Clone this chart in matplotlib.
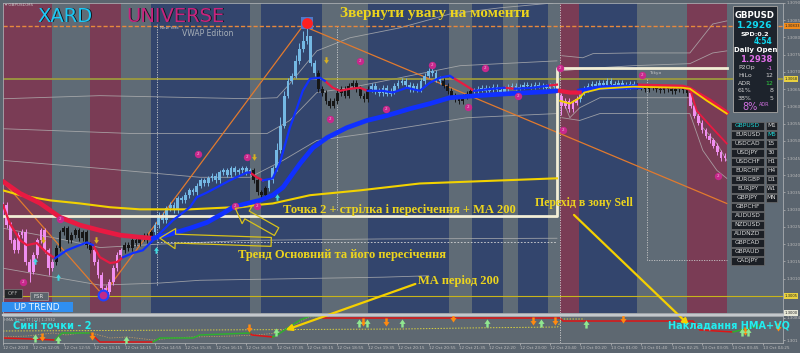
import numpy as np
import matplotlib
matplotlib.use('Agg')
import matplotlib.pyplot as plt
from matplotlib.patches import Rectangle, FancyArrowPatch
from matplotlib.path import Path

# prices are kept in pips above 1.3000, x is the bar number (5 min bars)
closes = [
    31.3, 25.5, 21.1, 18.2, 22.6, 23.5, 14.8, 12.0, 16.8, 21.1, 24.0, 18.2, 13.0, 14.8,
    18.8, 23.4, 24.6, 21.1, 22.6, 24.0, 21.7, 23.4, 19.7, 18.2,
    14.8, 11.0, 7.2, 6.0, 9.0, 13.0, 16.8, 18.2,
    19.7, 18.8, 21.1, 20.3, 21.7, 22.3, 21.1, 23.4,
    25.5, 28.4, 26.9, 30.4, 31.3, 29.8, 33.3, 32.7, 34.2, 35.6, 35.0, 37.0, 38.5,
    37.6, 39.1, 39.9, 38.5, 40.8, 41.4, 40.2, 42.0, 40.8, 41.4, 42.0, 40.8, 41.4,
    38.5, 35.0, 34.2, 36.2,
    38.5, 42.0, 47.2, 54.4, 63.1, 67.4, 68.9, 73.2, 76.7, 79.0, 80.5,
    72.6, 69.7, 65.1, 63.9, 61.6, 60.2,
    61.6, 63.9, 65.1, 63.1, 66.0, 66.9, 65.1, 63.1, 62.2,
    65.1, 66.0, 64.5, 63.9, 65.4, 63.7, 64.5, 66.0, 66.9, 67.4, 66.3, 65.1, 66.0,
    65.1, 67.4, 68.9, 70.3, 69.7,
    68.0, 67.4, 66.0, 64.5, 63.1,
    62.2, 61.6, 62.8, 63.7, 64.5,
    64.5, 65.1, 65.4, 64.5, 65.1, 65.7, 64.8, 64.2, 65.1, 65.7, 66.0, 65.4, 65.7,
    66.3, 66.0, 65.7, 66.3, 66.0, 65.7, 65.4, 66.0, 65.7,
    63.1, 60.2, 61.6, 59.3, 61.1, 62.2,
    64.0, 65.1, 66.0, 66.6, 66.0, 66.9, 66.3, 67.4, 66.6, 66.0, 66.9, 66.3, 65.7, 66.6, 66.0,
    65.7, 65.4, 65.1, 65.4, 65.7, 65.1, 64.8, 65.4, 65.1, 64.5, 65.1, 65.4, 64.8, 63.9,
    60.2, 57.3, 55.3, 53.0, 51.5, 50.1, 48.6, 46.6, 44.9, 45.7,
]
first_open = 29.0
high_marks = {72: 49.5, 73: 57.0, 74: 64.5, 77: 75.0, 78: 78.5, 79: 82.0, 80: 84.2, 81: 76.0}
low_marks = {26: 5.2, 27: 5.0, 7: 9.0, 12: 11.0, 147: 57.5}

candle_zones = [(0, 13, 'pink'), (14, 23, 'black'), (24, 31, 'pink'), (32, 39, 'black'),
                (40, 65, 'blue'), (66, 69, 'black'), (70, 82, 'blue'), (83, 96, 'black'),
                (97, 115, 'blue'), (116, 123, 'black'), (124, 145, 'blue'), (146, 151, 'pink'),
                (152, 166, 'blue'), (167, 180, 'black'), (181, 190, 'pink')]

# session bands (bar edges)
band_edges = [0, 13, 23, 31, 39, 65, 68, 84, 96, 117.5, 123.5, 131.5, 135.5, 143.5, 146.5,
              151.5, 167, 180, 190.5, 205.3]
band_kind = ['m', 'g', 'm', 'g', 'b', 'g', 'b', 'g', 'b', 'g', 'b', 'g', 'b', 'g', 'm',
             'b', 'g', 'm', 'g']

fast_red = [
    [(0, 31.3), (1.8, 26.0), (4.5, 21.1), (6.3, 19.7), (8.9, 20.3), (11.6, 17.4), (13.7, 15.9)],
    [(23.7, 19.7), (25.5, 16.2), (28.2, 14.5), (30, 14.8), (31.6, 16.2)],
    [(65, 40.8), (66.8, 39.4), (68.4, 38.5)],
    [(84.7, 67.4), (86.8, 65.4), (88.7, 64.5), (91.3, 65.1), (93.9, 65.4), (96, 64.5)],
    [(118.4, 68.3), (121, 66.6), (124, 64.5)],
    [(132, 65.4), (134.7, 65.1)],
    [(143.4, 66.0), (145.8, 66.3)],
]
fast_blue = [
    [(13.7, 15.9), (16.8, 18.2), (19.5, 19.4), (22.1, 20.5), (23.7, 19.7)],
    [(31.6, 16.2), (34.2, 17.4), (36.8, 18.2), (39.5, 21.1), (44.7, 26.9), (49.2, 30.7), (51, 33.6),
     (53.7, 35.0), (56.3, 36.5), (59.7, 38.5), (64.2, 40.8), (65, 40.8)],
    [(68.4, 38.5), (71, 39.1), (72.9, 43.7), (75.5, 53.8), (77.4, 59.6), (78.9, 64.5), (80.8, 68.0),
     (83.4, 68.3), (84.7, 67.4)],
    [(96, 64.5), (100, 64.5), (102.6, 64.0), (106.3, 65.4), (109.7, 64.5), (112.4, 66.9), (115, 68.3),
     (117.6, 68.9), (118.4, 68.3)],
    [(124, 64.5), (128.9, 65.1), (132, 65.4)],
    [(134.7, 65.1), (139.5, 65.4), (143.4, 66.0)],
]
slow_red = [(0, 38.2), (4.5, 34.7), (9.7, 31.9), (15, 27.8), (20.3, 25.5), (25.5, 24.0), (30.8, 22.6),
            (36, 22.0), (39.5, 21.7)]
slow_blue = [(39.5, 21.7), (44.7, 23.1), (49.2, 24.6), (53.7, 26.3), (57.9, 28.9), (60.5, 30.7),
             (64.2, 31.8), (67.6, 32.7), (71, 34.2), (73.7, 36.5), (76.3, 40.5), (78.2, 43.4),
             (81.6, 48.0), (85.3, 50.9), (90.5, 53.8), (95.8, 55.9), (101, 57.3), (107.1, 59.3),
             (112.4, 60.8), (117.6, 62.5), (124.7, 63.1), (133.4, 63.7), (142.1, 64.2), (145.8, 64.5)]
ma200 = [(0, 35.6), (4.5, 34.2), (12.4, 32.7), (20.3, 31.8), (28.2, 30.7), (36, 30.1), (49.2, 30.1),
         (60.5, 30.7), (71, 31.8), (80.8, 34.2), (93.9, 35.6), (109.7, 37.6), (145.8, 39.1)]

right_red_thick = [[(146.6, 64.5), (149.2, 64.0), (151.8, 64.0)],
                   [(167.6, 66.0), (178.9, 65.7), (180.8, 65.1), (186.1, 61.6), (190.5, 58.2)]]
right_blue_thick = [(151.8, 64.5), (157.1, 65.4), (167.6, 65.7)]
right_red_thin = [(180.8, 65.1), (182.6, 58.7), (186.1, 54.4), (190.5, 49.2)]
right_yellow = [(146.6, 61.6), (149.2, 60.8), (151.8, 62.5), (153, 64.0), (157.1, 65.1),
                (165.8, 65.7), (178.9, 65.4), (180.8, 65.1), (185.3, 61.6), (190.5, 57.9)]

envelopes = [
    [(0, 62.2), (25.5, 63.1), (65, 62.2), (72.1, 62.5), (75.5, 66.6), (82.6, 76.1), (91.3, 79.9),
     (104.5, 82.8), (117.6, 86.8), (130.8, 88.6), (144.7, 90)],
    [(0, 53.5), (34.2, 52.1), (69.5, 52.1), (75.5, 55.9), (82.6, 64.0), (91.3, 65.4), (104.5, 68.3),
     (120.3, 71.8), (145.8, 73.2)],
    [(0, 44.3), (25.5, 42.0), (51.8, 39.4), (65, 39.4), (73.7, 44.3), (82.6, 50.1), (95.8, 52.1),
     (108.9, 54.4), (122.1, 56.7), (145.8, 57.9)],
    [(0, 24.6), (15, 21.5), (25.5, 19.0), (41.3, 20.0), (65, 21.1), (100, 21.5), (145.8, 21.7)],
    [(0, 13.0), (25.5, 8.1), (41.3, 8.7), (51.8, 9.5), (100, 10.4), (112, 10.8)],
    [(147.1, 74.7), (152.6, 74.1), (155.3, 75.3), (165.8, 75.5), (180.8, 75.5), (186.8, 83.9), (190.5, 84.8)],
    [(147.1, 70.3), (152.6, 70.9), (165.8, 71.8), (180.8, 72.4), (186.8, 75.5), (190.5, 76.1)],
    [(147.1, 62.5), (149.2, 56.7), (151.8, 59.6), (157.1, 62.5), (180.8, 62.5), (184.2, 53.8),
     (187.9, 49.2), (190.5, 44.3)],
    [(147.1, 56.7), (151.8, 55.9), (157.1, 57.9), (180.8, 57.9), (184.2, 47.2), (187.9, 41.4), (190.5, 39.1)],
]
zone_line = [(0, 28.1), (145.8, 28.1), (145.8, 71.2), (190.5, 71.2)]
zigzag = [[(0.5, 37.6), (26.3, 5.2), (79.5, 84.2)], [(80.8, 82.5), (190.5, 31.8)]]
level_orange, level_olive, level_yellow = 83.3, 68.0, 5.0

dots_2 = [(51.3, 46.3), (64.2, 45.2), (93.9, 73.2), (86, 56.4), (100.8, 59.3), (112.9, 72.1),
          (126.8, 71.2), (122.4, 59.9), (135.5, 63.1), (146.6, 71.2), (147.4, 53.2), (168.2, 69.2),
          (188.2, 39.9), (15, 27.2), (5.3, 9.0), (61.1, 31.0), (66.8, 31.0)]
arrows_down_main = [(85, 73.5), (66, 45.4), (10.5, 21.1), (24.5, 21.1)]
arrows_up_main = [(8.4, 15.1), (14.5, 10.4), (40.3, 18.2), (72.1, 33.6)]

# HMA trend panel
hma_red = [
    [(0, 16.7), (7.9, 13.3), (13.7, 10)],
    [(22.9, 33.3), (25.5, 3.3), (39.5, 3.3)],
    [(65, 33.3), (65.5, 26.7), (71, 20)],
    [(83.4, 90), (84.2, 83.3), (146.6, 83.3), (147.4, 73.3), (181.6, 73.3), (183.4, 43.3), (192.1, 36.7)],
]
hma_green = [
    [(13.7, 10), (15.5, 33.3), (22.9, 33.3)],
    [(39.5, 3.3), (41.3, 16.7), (50, 16.7), (51.8, 26.7), (65, 33.3)],
    [(71, 20), (72.1, 26.7), (78.2, 76.7), (80.8, 90), (83.4, 90)],
    [(192.1, 36.7), (196.6, 50), (199.2, 60)],
]
hma_signal = [(0, 40), (52, 43.3), (105, 46.7), (122, 50), (146, 53.3), (147, 80), (153, 80)]
vq_line = [(0, 20), (6.3, 23.3), (13.2, 33.3), (16.8, 26.7), (22.1, 36.7), (28.2, 16.7), (32.6, 20),
           (39.5, 10), (44.7, 16.7), (50, 20), (60.5, 23.3), (66.8, 26.7), (72.1, 33.3), (76.3, 60),
           (80.8, 86.7), (86.8, 90)]
hma_down = [(10.3, 20), (23.4, 23.3), (64.7, 50), (94.7, 70), (100.8, 70), (118.4, 83.3), (139.5, 73.3),
            (145.3, 73.3), (163.2, 80), (195.3, 40), (204, 53.3)]
hma_up = [(8.4, 16.7), (14.5, 10), (32.4, 10), (71.8, 36.7), (93.7, 66.7), (95.8, 66.7), (105, 66.7),
          (127.4, 66.7), (141.6, 66.7), (153.4, 63.3), (194.5, 36.7), (196, 36.7)]

time_labels = ['12 Oct 2020', '12 Oct 12:05', '12 Oct 12:55', '12 Oct 13:15', '12 Oct 14:15',
               '12 Oct 14:55', '12 Oct 15:35', '12 Oct 16:15', '12 Oct 16:55', '12 Oct 17:35',
               '12 Oct 18:15', '12 Oct 18:55', '12 Oct 19:35', '12 Oct 20:15', '12 Oct 20:55',
               '12 Oct 21:35', '12 Oct 22:20', '12 Oct 23:00', '12 Oct 23:40', '13 Oct 00:20',
               '13 Oct 01:00', '13 Oct 01:40', '13 Oct 02:25', '13 Oct 03:05', '13 Oct 03:45',
               '13 Oct 04:25']
symbols = ['GBPUSD', 'EURUSD', 'USDCAD', 'USDJPY', 'USDCHF', 'EURCHF', 'EURGBP', 'EURJPY', 'GBPJPY',
           'GBPCHF', 'AUDUSD', 'NZDUSD', 'AUDNZD', 'GBPCAD', 'GBPAUD', 'CADJPY']
timeframes = ['M1', 'M5', '15', '30', 'H1', 'H4', 'D1', 'W1', 'MN']
info_rows = [('P2Op', '-1', '#e070e8'), ('HiLo', '12', '#d0d0d0'), ('ADR', '12', '#30d040'),
             ('61%', '8', '#d0d0d0'), ('38%', '5', '#d0d0d0')]
price_tags = [(83.3, '1.30833', '#f08a1a'), (68.0, '1.3068', '#e8d040'), (5.0, '1.3005', '#e8d040'),
              (0.0, '1.3000', '#e8e8d8')]


def pr(v):
    return 1.3 + np.asarray(v, dtype=float) / 10000


def line(ax, pts, **kw):
    a = np.array(pts)
    ax.plot(a[:, 0], pr(a[:, 1]), **kw)


BG = '#5b656f'
COL = {'m': '#7a3c55', 'g': '#5f6b76', 'b': '#33456d',
       'pink': '#f08ef0', 'blue': '#74b8e4', 'black': '#161616'}
YEL = '#ecd41e'
fig = plt.figure(figsize=(8, 3.53), dpi=100, facecolor=BG)

ax = fig.add_axes([3 / 800, 1 - 313 / 353, 780 / 800, 310 / 353])
ax.set_facecolor(COL['g'])
ax.set_xlim(0, 205.3)
ax.set_ylim(1.3000, 1.30897)
for k in range(len(band_kind)):
    ax.axvspan(band_edges[k], band_edges[k + 1], color=COL[band_kind[k]], lw=0, zorder=0)

for pts in envelopes:
    line(ax, pts, color='#b4b4b4', lw=0.6, alpha=0.8, zorder=1)
ax.axhline(pr(level_orange), color='#e8893c', lw=1, ls=(0, (3, 1.5)), zorder=2)
ax.axhline(pr(level_olive), color='#9c9a3e', lw=1.3, zorder=2)
ax.axhline(pr(level_yellow), color='#c8b41a', lw=0.8, zorder=2)
ax.plot([40.5, 145.8], pr([20.5, 20.5]), color='#d8d8d8', lw=0.6, ls=(0, (2, 2)), zorder=2)
ax.plot([169.5, 169.5, 190.5], pr([68, 15.3, 15.3]), color='#c8c8c8', lw=0.6, ls=(0, (1.5, 1.5)), zorder=2)
for xb, y0, y1 in [(40.5, 8, 84), (87.9, 30, 83), (146.6, 0, 90)]:
    ax.plot([xb, xb], pr([y0, y1]), color='#d0d0d0', lw=0.6, ls=(0, (1.5, 1.5)), zorder=2)
for pts in zigzag:
    line(ax, pts, color='#e27a2e', lw=0.9, zorder=2)

# candles
c = np.array(closes)
o = np.r_[first_open, c[:-1]]
hi = np.maximum(o, c) + 0.8
lo = np.minimum(o, c) - 0.8
for i, v in high_marks.items():
    hi[i] = v
for i, v in low_marks.items():
    lo[i] = v
ccol = [''] * len(c)
for a, b, k in candle_zones:
    for i in range(a, b + 1):
        ccol[i] = COL[k]
x = np.arange(len(c))
ax.vlines(x, pr(lo), pr(hi), colors=ccol, lw=0.7, zorder=3)
body = np.maximum(np.abs(c - o), 0.3) / 10000
ax.bar(x, body, bottom=pr(np.minimum(o, c)), width=0.72, color=ccol, lw=0, zorder=3)

line(ax, zone_line, color='#f2eed6', lw=2, zorder=4)
line(ax, ma200, color='#f2d200', lw=1.5, zorder=4)
line(ax, slow_red, color='#e81a42', lw=3.4, zorder=4, solid_capstyle='round')
line(ax, slow_blue, color='#1030ff', lw=3.4, zorder=4, solid_capstyle='round')
for pts in fast_red:
    line(ax, pts, color='#e81a42', lw=1.6, zorder=5)
for pts in fast_blue:
    line(ax, pts, color='#1030ff', lw=1.6, zorder=5)
line(ax, right_blue_thick, color='#1030ff', lw=3.4, zorder=4)
for pts in right_red_thick:
    line(ax, pts, color='#e81a42', lw=3.0, zorder=4)
line(ax, right_red_thin, color='#e81a42', lw=1.3, zorder=4)
line(ax, right_yellow, color='#f2d200', lw=1.3, zorder=5)

down_m = Path([(-0.3, 1), (0.3, 1), (0.3, 0.1), (0.75, 0.1), (0, -1), (-0.75, 0.1), (-0.3, 0.1), (-0.3, 1)], closed=True)
up_m = Path([(-0.3, -1), (0.3, -1), (0.3, -0.1), (0.75, -0.1), (0, 1), (-0.75, -0.1), (-0.3, -0.1), (-0.3, -1)], closed=True)

d = np.array(dots_2)
ax.scatter(d[:, 0], pr(d[:, 1]), s=28, color='#c8288c', zorder=6, lw=0)
for bx, py in dots_2:
    ax.text(bx, pr(py), '2', fontsize=3, color='#f0c0e0', ha='center', va='center', zorder=7)
ad = np.array(arrows_down_main)
ax.scatter(ad[:, 0], pr(ad[:, 1]), marker=down_m, s=22, color='#d8b020', zorder=6, lw=0)
au = np.array(arrows_up_main)
ax.scatter(au[:, 0], pr(au[:, 1]), marker=up_m, s=22, color='#40d8e0', zorder=6, lw=0)
ax.scatter([80], pr([84.2]), marker='s', s=70, color='#5078c8', zorder=6, lw=0)
ax.scatter([80], pr([84.2]), s=60, color='#ff2020', zorder=7, lw=0)
ax.scatter([26.3], pr([5.2]), s=50, color='#c02a8a', edgecolor='#2040ff', lw=1.5, zorder=7)

# price scale on the right; levels that carry a tag show only the tag
ax.yaxis.tick_right()
yt = np.arange(0, 91, 5)
tagged = [t[0] for t in price_tags]
ax.set_yticks(pr(yt))
ax.set_yticklabels(['' if any(abs(v - t) < 1.5 for t in tagged) else '%.4f' % pr(v) for v in yt])
ax.tick_params(axis='y', labelsize=3, colors='#b8b8b8', length=1.5, pad=1, width=0.5)
ax.set_xticks([])
for s in ax.spines.values():
    s.set_color('#a8acb0')
    s.set_linewidth(0.6)
for v, txt, fc in price_tags:
    ax.text(1.002, pr(v), txt, transform=ax.get_yaxis_transform(), fontsize=2.7, color='#202020',
            va='center', ha='left', clip_on=False, zorder=8,
            bbox=dict(boxstyle='square,pad=0.2', fc=fc, ec='none'))

# lower HMA panel
ax2 = fig.add_axes([3 / 800, 1 - 343 / 353, 780 / 800, 27 / 353])
ax2.set_facecolor('#5e6871')
ax2.set_xlim(0, 205.3)
ax2.set_ylim(1.3000, 1.3090)
line(ax2, hma_signal, color='#d8d040', lw=0.7, ls=(0, (1.5, 1.5)))
line(ax2, vq_line, color='#c09a60', lw=0.6, ls=(0, (1.5, 1.5)))
for pts in hma_red:
    line(ax2, pts, color='#e01414', lw=1.1)
for pts in hma_green:
    line(ax2, pts, color='#2eb02e', lw=1.1)
hd = np.array(hma_down)
ax2.scatter(hd[:, 0], pr(hd[:, 1]), marker=down_m, s=34, color='#ff8a10', lw=0, zorder=5)
hu = np.array(hma_up)
ax2.scatter(hu[:, 0], pr(hu[:, 1]), marker=up_m, s=34, color='#90e890', lw=0, zorder=5)
ax2.plot([146.6, 146.6], [1.3, 1.309], color='#d0d0d0', lw=0.6, ls=(0, (1.5, 1.5)))
ax2.yaxis.tick_right()
ax2.set_yticks([1.3084, 1.3010])
ax2.set_yticklabels(['1.3084', '1.301'])
ax2.set_xticks(np.arange(0, 8 * len(time_labels), 8))
ax2.set_xticklabels(time_labels)
for t in ax2.get_xticklabels():
    t.set_ha('left')
ax2.tick_params(axis='both', labelsize=3, colors='#c0c0c0', length=1.5, pad=1, width=0.5)
for s in ax2.spines.values():
    s.set_color('#a8acb0')
    s.set_linewidth(0.6)

# overlay in pixel units for texts, panels and pointers
ov = fig.add_axes([0, 0, 1, 1])
ov.set_xlim(0, 800)
ov.set_ylim(353, 0)
ov.axis('off')
ov.plot([3, 783], [314.5, 314.5], color='#c4c8cc', lw=1.6)

SERIF = 'Liberation Serif'
ov.text(66, 17, 'XARD', fontsize=14, color='#101820', ha='center', va='center')
ov.text(65, 16, 'XARD', fontsize=14, color='#1ec8f5', ha='center', va='center')
ov.text(176, 17, 'UNIVERSE', fontsize=14, color='#101820', ha='center', va='center')
ov.text(175, 16, 'UNIVERSE', fontsize=14, color='#c8247e', ha='center', va='center')
ov.text(208, 33, 'VWAP Edition', fontsize=5.5, color='#a8b0b8', ha='center', va='center')
ov.text(160, 28, 'New York', fontsize=3, color='#c8c8c8', va='center')
ov.text(649, 73, 'Tokyo', fontsize=3.2, color='#c8c8c8', va='center')
ov.text(5, 4.5, '▾ GBPUSD,M5', fontsize=3, color='#c8c8c8', va='center')
ov.text(4, 319.5, 'HMA Trend TT [22] 1.2932', fontsize=2.8, color='#c0c0c0', va='center')

ov.text(340, 13, 'Звернути увагу на моменти', fontsize=11, family=SERIF, weight='bold', color=YEL, va='center')
ov.text(283, 210, 'Точка 2 + стрілка і пересічення + МА 200', fontsize=9, family=SERIF, weight='bold',
        color=YEL, va='center')
ov.text(238, 255, 'Тренд Основний та його пересічення', fontsize=9, family=SERIF, weight='bold',
        color=YEL, va='center')
ov.text(535, 203, 'Перехід в зону Sell', fontsize=8.5, family=SERIF, weight='bold', color=YEL, va='center')
ov.text(418, 281, 'МА період 200', fontsize=9, family=SERIF, weight='bold', color=YEL, va='center')
ov.text(13, 326, 'Сині точки - 2', fontsize=7, weight='bold', color='#22eef0', va='center')
ov.text(668, 326, 'Накладання HMA+VQ', fontsize=7, weight='bold', color='#22eef0', va='center')

# hollow pointers and solid yellow arrows
ov.annotate('', xy=(233, 207), xytext=(279, 233),
            arrowprops=dict(arrowstyle='simple,head_length=0.6,head_width=0.9,tail_width=0.4',
                            fc='none', ec='#d8c21a', lw=0.9, mutation_scale=16))
ov.annotate('', xy=(157, 238), xytext=(274, 242),
            arrowprops=dict(arrowstyle='simple,head_length=0.7,head_width=0.9,tail_width=0.4',
                            fc='none', ec='#d8c21a', lw=0.9, mutation_scale=16))
for a, b in [((418, 283), (283, 331)), ((572, 213), (691, 327))]:
    ov.add_patch(FancyArrowPatch(a, b, arrowstyle='-|>', mutation_scale=9, color='#f5d000', lw=1.6))

# trend / switch boxes
ov.add_patch(Rectangle((2, 302), 71, 10, fc='#2f8ff0', ec='none'))
ov.text(37, 307.5, 'UP TREND', fontsize=6.5, color='#e8f4ff', ha='center', va='center')
ov.add_patch(Rectangle((4, 289), 18, 9, fc='#222426', ec='#808080', lw=0.5))
ov.text(13, 293.5, 'OFF', fontsize=4, color='#a0a0a0', ha='center', va='center')
ov.add_patch(Rectangle((30, 292), 18, 8, fc='#5c646c', ec='#a0a0a0', lw=0.5))
ov.text(39, 296, 'FSR', fontsize=4, color='#e0e0e0', ha='center', va='center')

# info panel
ov.add_patch(Rectangle((733, 6), 44, 106, fc='#1d232c', ec='#9a9a9a', lw=0.7))
ov.text(755, 16, 'GBPUSD', fontsize=6.2, weight='bold', color='white', ha='center', va='center')
ov.text(755, 26, '1.2926', fontsize=6.6, weight='bold', color='#10d8f0', ha='center', va='center')
ov.text(755, 34.5, 'SPD:0.2', fontsize=4.6, weight='bold', color='white', ha='center', va='center')
ov.text(763, 42, '4:54', fontsize=5.5, weight='bold', color='#10d8f0', ha='center', va='center')
ov.text(756, 50, 'Daily Open', fontsize=5, weight='bold', color='white', ha='center', va='center')
ov.text(756, 59, '1.2938', fontsize=6, weight='bold', color='#e070e8', ha='center', va='center')
for i, (lab, val, vc) in enumerate(info_rows):
    yy = 68 + i * 7.6
    ov.text(738, yy, lab, fontsize=4.5, color='#d0d0d0', va='center')
    ov.text(773, yy, val, fontsize=4.5, color=vc, ha='right', va='center')
ov.text(758, 107, '8%', fontsize=7, color='#d070e0', ha='right', va='center')
ov.text(759, 104, 'ADR', fontsize=3.5, color='#d070e0', ha='left', va='center')

for i, sym in enumerate(symbols):
    yy = 122 + 9 * i
    ov.add_patch(Rectangle((731, yy), 33, 7.6, fc='#1b1f25', ec='#6c6c6c', lw=0.5))
    ov.text(747.5, yy + 3.9, sym, fontsize=4.3, color='#20d8d8' if i == 0 else '#d8d8d8',
            ha='center', va='center')
    if i < len(timeframes):
        ov.add_patch(Rectangle((766, yy), 11, 7.6, fc='#1b1f25', ec='#6c6c6c', lw=0.5))
        ov.text(771.5, yy + 3.9, timeframes[i], fontsize=4.2, color='#20d8d8' if i == 1 else '#d8d8d8',
                ha='center', va='center')

fig.savefig('out.png', dpi=100, facecolor=BG)
